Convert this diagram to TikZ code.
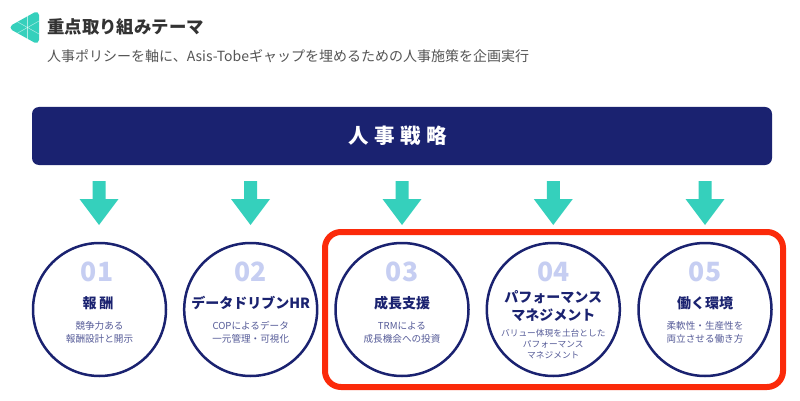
\documentclass[tikz,border=0pt]{standalone}
\usepackage{fontspec}
\setmainfont{Noto Sans CJK JP}
\definecolor{navy}{HTML}{1A2270}
\definecolor{teal}{HTML}{35D0BC}
\definecolor{numc}{HTML}{C6CEF2}
\definecolor{redb}{HTML}{FB2A0A}
\definecolor{subc}{HTML}{555B98}
\definecolor{tit}{HTML}{333333}
\definecolor{subt}{HTML}{555555}
\tikzset{
 x=1pt,y=-1pt,
 ring/.style={circle,draw=navy,line width=2.5pt,fill=white,minimum size=133pt,inner sep=0pt},
 numtxt/.style={text=numc,font=\fontsize{26.5}{26.5}\selectfont\bfseries,inner sep=0pt},
 headtxt/.style={text=navy,font=\fontsize{14}{17.5}\selectfont\bfseries,align=center,inner sep=0pt},
 bodytxt/.style={text=subc,font=\fontsize{9.6}{13.3}\selectfont,align=center,inner sep=0pt},
 downarrow/.style={fill=teal,draw=none},
 logopart/.style={draw=white,line width=0.5pt,opacity=0.6},
}
\newcommand{\downarr}[2]{\fill[downarrow] (#1-6.5,#2) -- (#1+6.5,#2) -- (#1+6.5,#2+18) -- (#1+19.5,#2+18) -- (#1,#2+44) -- (#1-19.5,#2+18) -- (#1-6.5,#2+18) -- cycle;}
\begin{document}
\begin{tikzpicture}
\useasboundingbox (0,0) rectangle (800,401);
\fill[white] (0,0) rectangle (800,401);
% logo
\filldraw[teal,line width=6pt,line join=round] (13.5,27.5) -- (36,15) -- (36,40) -- cycle;
\draw[logopart] (27,11.5) -- (27,43.5);
\draw[logopart] (16,21) -- (39,34);
\draw[logopart] (16,34) -- (39,21);
\node[text=tit,font=\fontsize{17.4}{17.4}\selectfont\bfseries,anchor=west,inner sep=0pt] (title) at (47,26.7) {重点取り組みテーマ};
\node[text=subt,font=\fontsize{14}{14}\selectfont,anchor=west,inner sep=0pt] (subtitle) at (47,56) {人事ポリシーを軸に、Asis-Tobeギャップを埋めるための人事施策を企画実行};
\node[fill=navy,rounded corners=7pt,minimum width=740pt,minimum height=58pt,inner sep=0pt] (banner) at (402,136) {};
\node[text=white,font=\fontsize{20.5}{20.5}\selectfont\bfseries,inner sep=0pt] (bannertext) at (397.5,136) {人\hspace{5.5pt}事\hspace{5.5pt}戦\hspace{5.5pt}略};
\downarr{99}{181}
\downarr{250.5}{181}
\downarr{402}{181}
\downarr{553.3}{181}
\downarr{705}{181}
\draw[redb,line width=6pt,rounded corners=16pt] (325,232) rectangle (783,387);
\node[ring] (c1) at (99.5,309.5) {};
\node[ring] (c2) at (250.7,309.5) {};
\node[ring] (c3) at (402,309.5) {};
\node[ring] (c4) at (553.3,309.5) {};
\node[ring] (c5) at (705,309.5) {};
\node[numtxt] (n1) at (97,272) {01};
\node[numtxt] (n2) at (250.7,272) {02};
\node[numtxt] (n3) at (402,272) {03};
\node[numtxt] (n4) at (553.3,272) {04};
\node[numtxt] (n5) at (705,272) {05};
\node[headtxt] (h1) at (98,303) {報\hspace{3pt}酬};
\node[headtxt] (h2) at (250.7,303) {データドリブンHR};
\node[headtxt] (h3) at (402,303) {成長支援};
\node[headtxt] (h4) at (553.3,306) {パフォーマンス\\マネジメント};
\node[headtxt] (h5) at (705,303) {働く環境};
\node[bodytxt] (b1) at (99.5,332.5) {競争力ある\\報酬設計と開示};
\node[bodytxt] (b2) at (250.7,332.5) {COPによるデータ\\一元管理・可視化};
\node[bodytxt] (b3) at (402,332.5) {TRMによる\\成長機会への投資};
\node[bodytxt,font=\fontsize{8.7}{10.6}\selectfont] (b4) at (553.3,344) {バリュー体現を土台とした\\パフォーマンス\\マネジメント};
\node[bodytxt] (b5) at (705,332.5) {柔軟性・生産性を\\両立させる働き方};
\end{tikzpicture}
\end{document}
